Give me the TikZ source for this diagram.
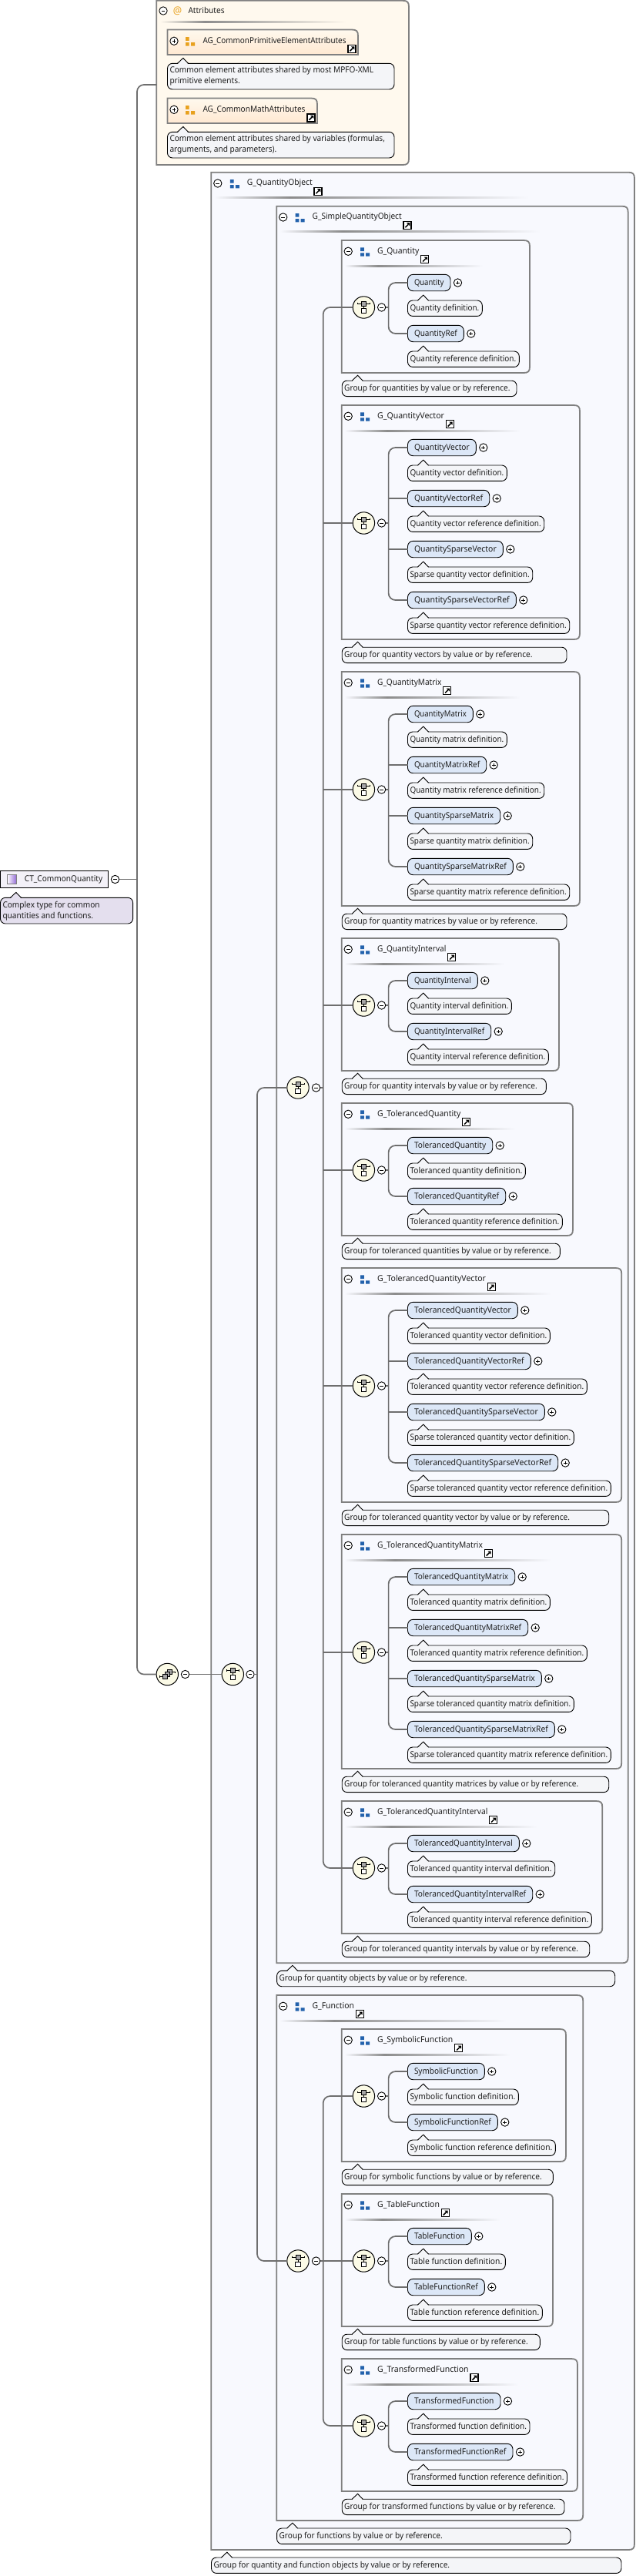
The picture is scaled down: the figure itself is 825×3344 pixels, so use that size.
\documentclass[tikz,border=0pt]{standalone}
\usepackage{graphicx}
\usepackage{fontspec}
\setmainfont[FakeStretch=0.935]{Noto Sans}
\newfontfamily\efont[FakeStretch=0.98]{Noto Sans}
\usetikzlibrary{calc}
\definecolor{gbg}{HTML}{F8F9FE}
\definecolor{abg}{HTML}{FFF9EE}
\definecolor{gedge}{HTML}{808080}
\definecolor{sepg}{HTML}{8C8C8C}
\definecolor{elemfill}{HTML}{DCE7F7}
\definecolor{descfill}{HTML}{F4F5F8}
\definecolor{ctdesc}{HTML}{E4DFEE}
\definecolor{ctfill}{HTML}{F3F1F8}
\definecolor{choicefill}{HTML}{FBFAE6}
\definecolor{blueicon}{HTML}{2362AC}
\definecolor{orangeicon}{HTML}{E8A11E}
\definecolor{inktext}{HTML}{1E1E1E}
\definecolor{conncol}{HTML}{6E6E6E}
\pgfdeclarehorizontalshading{sepgroup}{100bp}{color(0bp)=(gbg); color(25bp)=(gbg); color(37bp)=(sepg); color(75bp)=(gbg); color(100bp)=(gbg)}
\pgfdeclarehorizontalshading{sepattr}{100bp}{color(0bp)=(abg); color(25bp)=(abg); color(37bp)=(sepg); color(75bp)=(abg); color(100bp)=(abg)}
\newcommand\dfont{\fontsize{10.8}{12}\selectfont}
\newcommand\tstrut{\rule[-2pt]{0pt}{10.8pt}}
\tikzset{
  every node/.style={font=\dfont,text=inktext,inner sep=0pt,outer sep=0pt},
  groupframe/.style={draw=gedge,line width=1.8pt,fill=gbg},
  attrframe/.style={draw=gedge,line width=1.8pt,fill=abg},
  agframe/.style={draw=gedge,line width=1.8pt,top color=abg,bottom color=orange!18!white},
  conn/.style={draw=conncol,line width=1.7pt},
  elembox/.style={draw=black,line width=0.9pt,fill=elemfill,rounded corners=7pt,anchor=west,minimum height=21.4pt,inner xsep=8.5pt,font=\efont\dfont},
  descbox/.style={draw=black,line width=0.9pt,rounded corners=6.5pt,anchor=north west,inner xsep=3pt},
  tog/.style={circle,draw=black,line width=0.9pt,fill=white,minimum size=10.4pt},
  togmark/.style={draw=black,line width=0.8pt},
  choicenode/.style={circle,draw=black,line width=1pt,fill=choicefill,minimum size=28.4pt},
  titlenode/.style={anchor=west,font=\efont\dfont},
  attrtitle/.style={anchor=west},
}
% toggles
\newcommand\minusat[3]{\node[tog] (#1) at (#2,#3) {};
  \draw[togmark] (#2-2.4,#3) -- (#2+2.4,#3);}
\newcommand\plusat[3]{\node[tog] (#1) at (#2,#3) {};
  \draw[togmark] (#2-2.4,#3) -- (#2+2.4,#3) (#2,#3-2.4) -- (#2,#3+2.4);}
% three-square group icon
\newcommand\gicon[3]{\fill[#3] (#1-6,#2-5.4) rectangle (#1-1.3,#2-0.7)
  (#1-6,#2+1.6) rectangle (#1-1.3,#2+6) (#1+1,#2+1.6) rectangle (#1+6,#2+6);}
% shortcut arrow icon
\newcommand\linkat[2]{\draw[black,line width=1.1pt,fill=white] (#1-5,#2-5) rectangle (#1+5,#2+5);
  \draw[black,line width=1.5pt] (#1-2.6,#2+2.8) -- (#1+1.2,#2-1);
  \fill[black] (#1+3.3,#2-3.2) -- (#1+3.3,#2+1) -- (#1-1,#2-3.2) -- cycle;}
% choice and sequence symbols
\newcommand\choiceat[3]{\node[choicenode] (#1) at (#2,#3) {};
  \draw[black,line width=0.8pt] (#2-8,#3-5) -- (#2+8,#3-5) (#2,#3-5) -- (#2,#3+2)
    (#2-8,#3-6.3) -- (#2-8,#3-3.7) (#2+8,#3-6.3) -- (#2+8,#3-3.7);
  \draw[black,line width=0.7pt,fill=gray!70] (#2-3,#3-8) rectangle (#2+3,#3-2);
  \draw[black,line width=0.9pt,fill=white] (#2-3.1,#3+1) rectangle (#2+3.1,#3+7.3);}
\newcommand\sequenceat[3]{\node[choicenode] (#1) at (#2,#3) {};
  \draw[black,line width=0.8pt] (#2-10,#3+3) -- (#2-3,#3+3) (#2+3,#3-2.7) -- (#2+10,#3-2.7)
    (#2-10,#3+1.7) -- (#2-10,#3+4.3) (#2+10,#3-4) -- (#2+10,#3-1.4);
  \draw[black,line width=0.6pt,fill=gray!70] (#2+0.4,#3-6) rectangle (#2+6.4,#3);
  \draw[black,line width=0.6pt,fill=gray!70] (#2-2.6,#3-3.4) rectangle (#2+3.4,#3+2.6);
  \draw[black,line width=0.6pt,fill=gray!70] (#2-5.8,#3) rectangle (#2+0.2,#3+6);}
% element: name, alias, x, y, right, text (fitted between the paddings)
\newcommand\elemat[6]{\pgfmathsetmacro\eW{#5-#3}
  \node[elembox,alias=#2,minimum width=\eW pt] (#1) at (#3,#4)
    {\makebox[\dimexpr\eW pt-17pt\relax][l]{\tstrut\resizebox{\dimexpr\eW pt-17pt\relax}{\height}{#6}}};}
% description: [fill], name, x, top, right, height, text
\newcommand\descat[7][descfill]{\pgfmathsetmacro\dW{#5-#3}
  \node[descbox,fill=#1,minimum width=\dW pt,minimum height=#6 pt] (#2) at (#3,#4)
    {\makebox[\dimexpr\dW pt-6pt\relax][l]{\tstrut#7}};
  \fill[#1] (#3+13.3,#4+0.8) -- (#3+20.3,#4-6.8) -- (#3+26.7,#4+0.8) -- cycle;
  \draw[black,line width=0.9pt] (#3+13,#4) -- (#3+20.3,#4-6.9) -- (#3+27,#4);}
% two-line description text
\newcommand\twolines[3]{\raisebox{-1pt}{\parbox[c]{#1pt}{\baselineskip=14pt #2\\#3}}}
% frame with square left corners, rounded right corners
\newcommand\frameat[5]{\path[#5] (#1,#4) -- (#1,#2) -- (#3-8,#2) .. controls (#3-2,#2) and (#3,#2+2) .. (#3,#2+8)
  -- (#3,#4-8) .. controls (#3,#4-2) and (#3-2,#4) .. (#3-8,#4) -- cycle;}
% attribute-group frame: only the top right corner is rounded
\newcommand\agframeat[4]{\path[agframe] (#1,#4) -- (#1,#2) -- (#3-8,#2) .. controls (#3-2,#2) and (#3,#2+2) .. (#3,#2+8)
  -- (#3,#4) -- cycle;}
% header of a group frame: name, title, L, T, R, link x (title ends just before the link)
\newcommand\headerat[6]{
  \minusat{t-#1}{#3+8.5}{#4+14.3}
  \gicon{#3+30.5}{#4+14.7}{blueicon}
  \pgfmathsetmacro\tW{#6-7.3-#3-46.5}
  \node[titlenode] (#1) at (#3+46.5,#4+14) {\tstrut\resizebox{\tW pt}{\height}{#2}};
  \linkat{#6}{#4+24.7}
  \shade[shading=sepgroup] (#3+4,#4+32.2) rectangle (#3+0.75*#5-0.75*#3,#4+34.2);
}
% G_ frame with its choice: name, T, R, link x, descR, desc text, rows count, rows
\newcommand\GroupBox[8]{
  \pgfmathsetmacro\bB{#2+172+66*(#7-2)}
  \pgfmathsetmacro\cY{#2+87+33*(#7-2)}
  \frameat{443.7}{#2}{#3}{\bB}{groupframe}
  \headerat{G-#1}{G\_#1}{443.7}{#2}{#3}{#4}
  \descat{gd-#1}{444.2}{\bB+10.2}{#5}{20.4}{#6}
  \foreach \en/\er/\dt/\dr [count=\ri] in {#8}{
    \pgfmathsetmacro\eY{#2+55+66*(\ri-1)}
    \pgfmathsetmacro\dY{#2+78+66*(\ri-1)}
    \elemat{\en}{row-#1-\ri}{529.5}{\eY}{\er}{\en}
    \plusat{p-\en}{\er+9.5}{\eY}
    \descat{d-\en}{529.5}{\dY}{\dr}{20.4}{\resizebox{\dimexpr\dr pt-536.5pt\relax}{\height}{\dt}}
  }
  \choiceat{c-#1}{472.4}{\cY}
  \minusat{m-#1}{495.6}{\cY}
  \coordinate (sp-#1) at (504.6,\cY);
  \draw[conn] (m-#1.east) -- (sp-#1);
  \draw[conn,rounded corners=9pt] (row-#1-1.west) -| (sp-#1) |- (row-#1-#7.west);
  \ifnum#7>2
    \pgfmathtruncatemacro\nm{#7-1}
    \foreach \k in {2,...,\nm}{\draw[conn] (row-#1-\k.west) -- (row-#1-\k.west -| sp-#1);}
  \fi
}
\begin{document}
\begin{tikzpicture}[x=1pt,y=-1pt]
\useasboundingbox (0,0) rectangle (825,3344);
\fill[white] (0,0) rectangle (825,3344);

% Attributes
\frameat{203.3}{0.8}{531}{214}{attrframe}
\minusat{t-Attributes}{212}{14}
\node[anchor=center,text=orangeicon] (at-sign) at (230.5,14.5) {\fontsize{13.5}{13.5}\selectfont @};
\node[attrtitle] (Attributes) at (244.5,14) {\tstrut Attributes};
\shade[shading=sepattr] (208,27.2) rectangle (449,29.2);
\agframeat{217.5}{38.5}{465}{71}
\plusat{p-AG1}{226}{53.3}
\gicon{247}{53.5}{orangeicon}
\node[attrtitle] (AG_CommonPrimitiveElementAttributes) at (263.5,53) {\tstrut\resizebox{186pt}{\height}{AG\_CommonPrimitiveElementAttributes}};
\linkat{457}{63.5}
\descat{d-AG1}{217.5}{82.3}{512}{33.7}{\twolines{285}{Common element attributes shared by most MPFO-XML}{primitive elements.}}
\agframeat{217.5}{127.5}{412}{160}
\plusat{p-AG2}{226}{142.3}
\gicon{247}{142.5}{orangeicon}
\node[attrtitle] (AG_CommonMathAttributes) at (263.5,142) {\tstrut\resizebox{133pt}{\height}{AG\_CommonMathAttributes}};
\linkat{404}{153}
\descat{d-AG2}{217.5}{171.3}{512}{33.7}{\twolines{285}{Common element attributes shared by variables (formulas,}{arguments, and parameters).}}
\coordinate (attr-in) at (203.3,110);

% G_QuantityObject
\frameat{274.3}{223.7}{824}{3310}{groupframe}
\headerat{G-QuantityObject}{G\_QuantityObject}{274.3}{223.7}{824}{413}
\descat{d-QuantityObject}{274.5}{3320}{807}{20.4}{Group for quantity and function objects by value or by reference.}

% G_SimpleQuantityObject
\frameat{359.2}{267.7}{815.7}{2548.3}{groupframe}
\headerat{G-SimpleQuantityObject}{G\_SimpleQuantityObject}{359.2}{267.7}{815.7}{529}
\descat{d-SimpleQuantityObject}{359.6}{2558.3}{798.7}{20.4}{Group for quantity objects by value or by reference.}

\GroupBox{Quantity}{312}{688}{551.7}{671}{Group for quantities by value or by reference.}{2}{Quantity/585/Quantity definition./626.3,QuantityRef/602.3/Quantity reference definition./674.3}
\GroupBox{QuantityVector}{526}{753}{584.3}{736}{Group for quantity vectors by value or by reference.}{4}{QuantityVector/618.3/Quantity vector definition./658.3,QuantityVectorRef/635.7/Quantity vector reference definition./706.7,QuantitySparseVector/653.3/Sparse quantity vector definition./691.7,QuantitySparseVectorRef/670.3/Sparse quantity vector reference definition./739.7}
\GroupBox{QuantityMatrix}{872}{753}{580.7}{736}{Group for quantity matrices by value or by reference.}{4}{QuantityMatrix/614.3/Quantity matrix definition./658.3,QuantityMatrixRef/631.7/Quantity matrix reference definition./706.7,QuantitySparseMatrix/649.7/Sparse quantity matrix definition./691.7,QuantitySparseMatrixRef/666.3/Sparse quantity matrix reference definition./739.7}
\GroupBox{QuantityInterval}{1218}{726}{586.7}{709.3}{Group for quantity intervals by value or by reference.}{2}{QuantityInterval/620.3/Quantity interval definition./664.3,QuantityIntervalRef/637.7/Quantity interval reference definition./712.3}
\GroupBox{TolerancedQuantity}{1432}{744}{605.7}{727.3}{Group for toleranced quantities by value or by reference.}{2}{TolerancedQuantity/639.7/Toleranced quantity definition./682.3,TolerancedQuantityRef/656.7/Toleranced quantity reference definition./730.3}
\GroupBox{TolerancedQuantityVector}{1646}{807.3}{638.3}{790.7}{Group for toleranced quantity vector by value or by reference.}{4}{TolerancedQuantityVector/672.3/Toleranced quantity vector definition./714.3,TolerancedQuantityVectorRef/689.3/Toleranced quantity vector reference definition./762.3,TolerancedQuantitySparseVector/707.3/Sparse toleranced quantity vector definition./745.3,TolerancedQuantitySparseVectorRef/724.7/Sparse toleranced quantity vector reference definition./793.3}
\GroupBox{TolerancedQuantityMatrix}{1992}{807.3}{634.3}{790.7}{Group for toleranced quantity matrices by value or by reference.}{4}{TolerancedQuantityMatrix/668.7/Toleranced quantity matrix definition./714.3,TolerancedQuantityMatrixRef/685.7/Toleranced quantity matrix reference definition./762.3,TolerancedQuantitySparseMatrix/703.3/Sparse toleranced quantity matrix definition./745.3,TolerancedQuantitySparseMatrixRef/720.3/Sparse toleranced quantity matrix reference definition./793.3}
\GroupBox{TolerancedQuantityInterval}{2338}{782.3}{640.7}{765.7}{Group for toleranced quantity intervals by value or by reference.}{2}{TolerancedQuantityInterval/674.3/Toleranced quantity interval definition./720.7,TolerancedQuantityIntervalRef/691.7/Toleranced quantity interval reference definition./768.3}

% G_Function
\frameat{359.2}{2590}{757.3}{3272}{groupframe}
\headerat{G-Function}{G\_Function}{359.2}{2590}{757.3}{467.3}
\descat{d-Function}{359.6}{3282}{741}{20.4}{Group for functions by value or by reference.}
\GroupBox{SymbolicFunction}{2634}{735}{595.7}{718.3}{Group for symbolic functions by value or by reference.}{2}{SymbolicFunction/629.3/Symbolic function definition./673.3,SymbolicFunctionRef/646.3/Symbolic function reference definition./721.3}
\GroupBox{TableFunction}{2848}{718}{578.3}{701.3}{Group for table functions by value or by reference.}{2}{TableFunction/612.3/Table function definition./656.3,TableFunctionRef/629.3/Table function reference definition./704.3}
\GroupBox{TransformedFunction}{3062}{750}{616}{733}{Group for transformed functions by value or by reference.}{2}{TransformedFunction/650/Transformed function definition./688,TransformedFunctionRef/666/Transformed function reference definition./736.5}

% Complex type
\node[draw=black,line width=1pt,fill=ctfill,anchor=north west,minimum width=140pt,minimum height=22pt] (CT_CommonQuantity) at (0.5,1130) {\makebox[140pt][l]{\hspace{31.5pt}\tstrut CT\_CommonQuantity}};
\shade[left color=white,right color=violet!55!blue!60,draw=gray,line width=0.6pt] (9.3,1135.3) rectangle (21.7,1147.7);
\descat[ctdesc]{d-CT}{0.5}{1165.3}{172.6}{33.7}{\twolines{165}{Complex type for common}{quantities and functions.}}
\minusat{m-CT}{149.5}{1141.5}

% top-level sequence
\sequenceat{seq}{217.3}{2173.5}
\minusat{m-seq}{240.5}{2173.5}
\coordinate (spine0) at (178,1141.5);
\draw[conn] (m-CT.east) -- (spine0);
\draw[conn,rounded corners=9pt] (attr-in) -| (spine0) |- (seq.west);

% choice between quantities and functions
\choiceat{c-top}{302.3}{2173.5}
\minusat{m-top}{325}{2173.5}
\draw[conn] (m-seq.east) -- (c-top.west);
\coordinate (spine1) at (334,2173.5);
\draw[conn] (m-top.east) -- (spine1);
\choiceat{c-simple}{387}{1412}
\minusat{m-simple}{410.5}{1412}
\choiceat{c-function}{387}{2935}
\minusat{m-function}{410.5}{2935}
\draw[conn,rounded corners=9pt] (c-simple.west) -| (spine1) |- (c-function.west);

% simple quantity objects
\coordinate (spine2) at (419.7,1412);
\draw[conn] (m-simple.east) -- (spine2);
\draw[conn,rounded corners=9pt] (c-Quantity.west) -| (spine2) |- (c-TolerancedQuantityInterval.west);
\foreach \g in {QuantityVector,QuantityMatrix,QuantityInterval,TolerancedQuantity,TolerancedQuantityVector,TolerancedQuantityMatrix}
  {\draw[conn] (c-\g.west) -- (c-\g.west -| spine2);}

% functions
\coordinate (spine3) at (419.7,2935);
\draw[conn] (m-function.east) -- (spine3);
\draw[conn,rounded corners=9pt] (c-SymbolicFunction.west) -| (spine3) |- (c-TransformedFunction.west);
\draw[conn] (c-TableFunction.west) -- (c-TableFunction.west -| spine3);
\end{tikzpicture}
\end{document}
